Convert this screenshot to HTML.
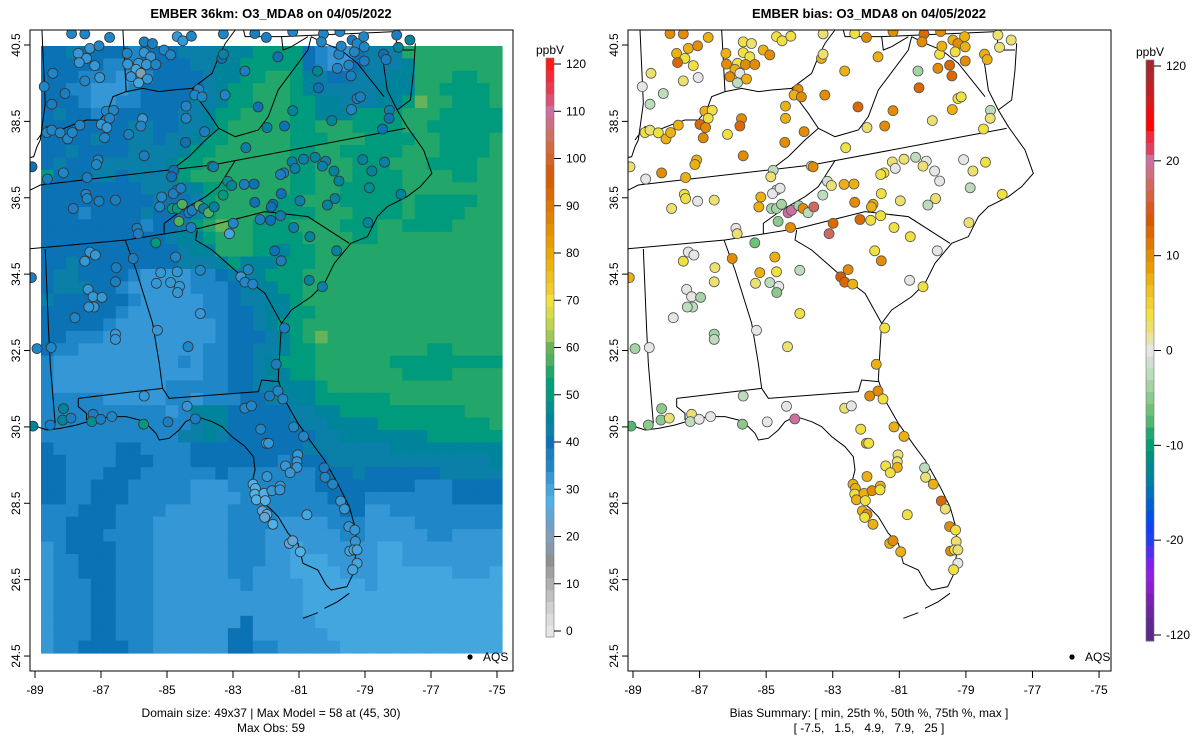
<!DOCTYPE html>
<html><head><meta charset="utf-8"><style>
html,body{margin:0;padding:0;background:#fff}
svg{display:block;font-family:"Liberation Sans",Arial,sans-serif}
</style></head><body>
<svg id="chart" width="1200" height="750" viewBox="0 0 1200 750" xmlns="http://www.w3.org/2000/svg">
<defs>
<clipPath id="clipL"><rect x="30" y="30" width="483" height="641"/></clipPath>
<clipPath id="clipR"><rect x="628" y="30" width="483" height="641"/></clipPath>
<path id="geo" fill="none" stroke="#000" stroke-width="1" vector-effect="non-scaling-stroke" d="M1175,40 L1170,120 L1160,210 L1120,240 L1150,290 L1200,360 L1225,430 L1190,470 L1150,500 L1090,530 L1060,560 L1030,620 L980,640 L930,700 L900,760 L860,800 L800,840 L770,880 L765,960 L760,1050 L780,1110 L820,1180 L870,1250 L900,1290 L940,1360 L975,1430 L995,1500 L995,1570 L985,1635 L968,1670 L920,1680 L905,1665 L880,1620 L835,1600 L820,1540 L790,1510 L760,1460 L735,1435 L705,1410 L680,1360 L690,1320 L685,1280 L660,1250 L620,1220 L590,1190 L560,1175 L520,1162 L500,1165 L480,1175 L460,1200 L430,1225 L400,1230 L390,1210 L370,1190 L340,1170 L300,1160 L250,1160 L200,1170 L150,1185 L100,1195 L60,1200 L30,1190 L10,1185 L0,1188 M835,1765 L880,1748 M900,1735 L940,1715 L975,1690 M1120,240 L1090,180 L1080,110 L1070,60 M0,485 L40,465 L560,405 L630,392 L1145,295 M0,657 L300,630 L520,595 L720,545 M720,545 L850,560 L975,640 M415,612 L415,580 L470,540 L540,500 L580,470 L630,392 M515,600 L510,630 L560,660 L640,730 L720,790 L770,880 M297,630 L330,720 L380,880 L400,1000 L410,1075 L430,1105 L700,1085 L710,1050 L760,1055 M55,657 L65,900 L70,1000 L85,1180 M155,1105 L410,1075 M155,1105 L155,1130 L180,1150 L180,1170 M30,330 L60,290 L100,300 L150,280 L180,270 L220,270 L245,240 L260,200 L300,185 L350,175 L400,185 L440,180 L500,175 L560,130 L580,80 L600,40 L630,0 M500,175 L520,210 L550,250 L580,295 M580,295 L540,330 L490,380 L450,410 L440,425 M580,295 L630,320 L700,300 L730,260 L760,180 L790,140 L850,60 L860,20 M45,0 L55,220 L40,330 L30,350 L20,380 L0,385 M290,0 L300,185 M655,0 L660,20 L770,20 L1115,5 M770,20 L775,60 L800,50 L850,20 M1115,5 L1120,60 L1170,60 M860,20 L900,40 L950,60 L1000,100 L1080,200"/>
</defs>
<rect width="1200" height="750" fill="#fff"/>
<g id="leftPanel">
  <g id="rasterL" clip-path="url(#clipL)"></g>
  <g clip-path="url(#clipL)"><use href="#geo" transform="translate(27.07,30) scale(0.33043,0.33333)"/></g>
  <g id="ptsL" clip-path="url(#clipL)"></g>
  <rect x="30" y="30" width="483" height="641" fill="none" stroke="#000"/>
  <text x="271" y="18" text-anchor="middle" font-size="13" font-weight="bold">EMBER 36km: O3_MDA8 on 04/05/2022</text>
  <text x="271" y="717" text-anchor="middle" font-size="12">Domain size: 49x37 | Max Model = 58 at (45, 30)</text>
  <text x="271" y="732" text-anchor="middle" font-size="12">Max Obs: 59</text>
  <circle cx="470" cy="657" r="2.6" fill="#000"/>
  <text x="483" y="661" font-size="12">AQS</text>
  <g id="axL"></g>
  <g id="cbL"></g>
</g>
<g id="rightPanel">
  <g clip-path="url(#clipR)"><use href="#geo" transform="translate(625,30) scale(0.33333)"/></g>
  <g id="ptsR" clip-path="url(#clipR)"></g>
  <rect x="628" y="30" width="483" height="641" fill="none" stroke="#000"/>
  <text x="869" y="18" text-anchor="middle" font-size="13" font-weight="bold">EMBER bias: O3_MDA8 on 04/05/2022</text>
  <text x="869" y="717" text-anchor="middle" font-size="12">Bias Summary: [ min, 25th %, 50th %, 75th %, max ]</text>
  <text x="869" y="732" text-anchor="middle" font-size="12" xml:space="preserve">[ -7.5,   1.5,   4.9,   7.9,   25 ]</text>
  <circle cx="1072" cy="657" r="2.6" fill="#000"/>
  <text x="1085" y="661" font-size="12">AQS</text>
  <g id="axR"></g>
  <g id="cbR"></g>
</g>
</svg>
<script>
var NS="http://www.w3.org/2000/svg";
var gridRows=[
"ddeddddcdddeeefffggggdcbbdeeehhhhhhhh","dddddcccddddeeffgggggdcbbdeeefhhhhhhh","dddcccbbcddddeffgghhgfeddeeeffhhhgghh",
"ddccbbbcdddddefgghhhgfeeeeefffhhggggh","dddcbbccddddeefgghhhggffeeeffgihhgggh","deddccdddddeefgghhhhggfffgggghhhggggg",
"dddddddeeddeefghhhhhgghhhgggghhgggggg","ddddeddeedeefgghhhhhggghhhgggghhggggh","ddeddddeeeefgghhhhhhgghhggggghhhggggh",
"deddeeeeeefgghhhhhhhgghhhggghhhgggghh","gdddeedeeefghhhhhhhhgghhhgggghhhhgghh","ddddddddeeeefgghhhhhgghhggggghhhhhhhh",
"dddddddddeddeghhhhhgghhhggggghggggghh","dddcddddedddeghhhhgggghhhgggghgggghhh","ddddddddcddeghihhggghhhhggghhgggghhhh",
"ddddddddddeffghhhgggghhhhgghhhhhhhhhh","dddddddddddeffhhhggfgghhhhhhhhhhhhhhh","ddeddddddddeeefgfffggghhhhhhhhhhhhhhh",
"deeddddcbbbbccdeefggghhhhhhhhhhhhhhhh","deeeddcbbbbbcccdeffgghhhhhhhhhhhhhhhh","eddddddcbbbbbccdeeffghhhhhhhhhhhhhhhh",
"ddddddcbbbbbbccddeffgghhhhhhhhhhhhhhh","dddddcbbbbbbbbcddefgghhhhhhhhhhhhhhhh","ddcccbbbbbbbbbcdddefghihhhhhhhhhhhhhh",
"dccbbbbbbbbbbccddeefgghhhhhhhhhgghhhh","cbbbbbbbbbbcbccddefggghhhhhhgggggggggg","cbbbbbbbbbbbbccddeffgghhhhhhhgggghhhh",
"cbbbbbbbbbcccccddeefffghhhhhhhhhhhhhh","cccccbbbbbccbcccddeeffgggggghhhhhhhhh","ccccccccccbcfffdddddeeffgggggggggghhh",
"cccccccccccceffdddddeeeffffgggggggggh","ccccccccccceefedddddddeefffffffgggggg","dcccccddccccdddddddddeeeeeeefffffffff",
"ddccccdddcccdddddddcdddeeeeeeeeeeeeef","ddcccdddccccccdcccccccdddeddddddeeeee","ddccdddcccccbbbcccccccddddddddcccdddd",
"ddccdddcccccbbbbcccccccdddcccccccdddd","cccdddccccbbbbbcccccccccddbbccccccccc","ccddddcccbbbbbbccccbbbbcccbbbbcccccc",
"ccdddccccbbbbbbcccbbbbbbccbbbbbccbbbb","bcddddcccbbbbbbcccbbabbbbbbaabbbbbbbb","bccdddcccbbbbbbcccbbaaabbbbaabbbbbbbb",
"bccdddcccbbbbbbccbbbaaaabbbaaaaaabbba","bcccddcccbbbbbbbcbbbbaaaaabaaaaaaaaaa","bcccddcccbbbbbbbbbbbbaaaaaaaaaaaaaaaa",
"bcccddcccbbbbbbbbbbbbaaaaaaaaaaaaaaaa","bcccddcccbbbbbbbdbbbbbaaaaaaaaaaaaaaa","bcccddcccbbbbbbddbbbbbbaaaaaaaaaaaaaa",
"bccddddccbbbbbbddccbbbbbaaaaaaaaaaaaa"];
var gridLevels={a:30,b:32.5,c:35,d:40,e:42.5,f:45,g:50,h:55,i:60};
var stLon=[-87.89,-87.49,-86.74,-87.69,-87.34,-87.06,-87.44,-87.66,-87.19,-88.46,
-87.49,-87.04,-88.72,-88.09,-88.49,-86.21,-85.69,-85.44,-85.69,-85.49,
-86.19,-85.86,-85.94,-85.62,-85.79,-86.09,-85.59,-85.86,-85.34,-85.09,
-84.89,-84.69,-84.52,-84.26,-83.29,-82.34,-81.99,-81.19,-83.34,-83.29,
-82.64,-81.64,-84.04,-84.16,-83.94,-83.24,-84.42,-84.42,-83.86,-84.44,
-85.74,-85.79,-86.16,-85.69,-86.84,-86.62,-86.74,-86.99,-86.82,-87.64,
-86.89,-88.64,-88.49,-88.24,-88.01,-87.87,-89.09,-88.62,-88.14,-87.42,
-87.09,-87.14,-87.46,-87.42,-87.06,-86.56,-87.84,-84.79,-84.86,-83.64,
-83.59,-82.24,-81.97,-81.44,-81.19,-80.44,-80.41,-79.84,-79.49,-79.42,
-79.79,-79.72,-79.39,-79.24,-79.04,-79.02,-79.32,-79.02,-78.44,-78.36,
-77.99,-77.64,-78.04,-80.26,-79.76,-80.32,-79.24,-79.14,-79.41,-78.26,
-78.27,-78.47,-80.01,-82.61,-81.21,-80.86,-80.51,-80.19,-80.29,-81.12,
-81.46,-81.56,-79.07,-78.41,-78.79,-79.94,-79.79,-78.87,-77.91,-79.91,
-80.14,-80.97,-81.54,-81.79,-81.84,-82.34,-82.66,-82.36,-83.16,-83.04,
-83.30,-84.69,-84.81,-84.58,-85.16,-85.22,-84.84,-84.69,-84.54,-84.34,
-84.24,-84.02,-83.89,-83.74,-83.57,-84.64,-84.27,-82.99,-83.11,-82.18,
-81.86,-81.56,-81.16,-80.67,-78.91,-79.86,-81.74,-81.54,-82.54,-82.76,
-82.64,-82.40,-80.69,-80.29,-81.44,-83.99,-83.99,-84.69,-84.74,-84.89,
-84.62,-84.68,-85.32,-85.19,-85.34,-85.91,-85.87,-86.02,-86.54,-86.56,
-87.34,-87.17,-87.49,-87.39,-87.24,-86.97,-87.21,-87.37,-87.79,-85.29,
-86.56,-86.56,-84.36,-88.94,-88.51,-89.11,
-81.69,-81.89,-81.64,-81.49,-85.69,-84.39,-82.64,-82.44,-88.14,-88.16,
-87.91,-87.24,-87.28,-87.01,-86.67,-88.54,-89.06,-85.71,-84.97,-84.14,
-82.16,-81.99,-81.92,-81.16,-80.86,-81.04,-81.06,-81.06,-81.41,-81.27,
-81.97,-80.24,-80.21,-79.98,-82.39,-82.32,-82.34,-82.29,-82.06,-82.02,
-81.82,-81.57,-81.58,-82.11,-81.97,-82.04,-81.79,-81.29,-81.19,-80.96,
-80.76,-79.74,-79.62,-79.49,-79.31,-79.29,-79.46,-79.34,-79.24,-79.24,-79.37];
var stLat=[40.80,40.79,40.70,40.28,40.41,40.48,40.15,40.04,39.96,39.76,
39.56,39.65,39.41,39.23,38.95,40.28,40.58,40.54,40.30,40.19,
40.00,40.02,39.86,39.99,39.76,39.67,39.61,39.51,39.99,40.37,
40.24,40.72,40.61,40.73,40.79,40.80,40.70,40.85,40.15,40.26,
39.82,40.19,39.34,39.19,39.14,39.19,38.90,38.58,38.23,37.95,
38.57,38.38,38.16,37.60,38.77,38.79,38.58,38.42,38.34,38.40,
38.07,38.21,38.27,38.20,38.04,38.21,37.31,36.99,37.15,37.03,
37.49,37.37,36.59,36.48,36.41,36.44,36.22,37.22,37.05,37.33,
37.31,38.88,38.34,38.38,38.78,39.82,39.38,39.89,39.97,39.69,
40.26,40.47,40.63,40.54,40.72,40.45,40.32,40.08,40.26,40.12,
40.44,40.63,40.76,40.79,40.85,40.58,39.10,39.14,38.81,38.79,
38.58,38.30,38.52,37.81,37.44,37.51,37.56,37.46,37.33,37.27,
37.15,37.11,37.50,37.43,37.20,37.20,36.94,36.76,36.59,36.48,
36.31,36.42,36.61,36.33,36.26,36.38,36.85,36.86,36.93,36.82,
36.57,36.70,36.61,36.75,36.52,36.26,36.22,36.22,36.33,36.11,
36.17,36.29,36.22,36.11,36.26,35.88,35.72,35.83,35.56,35.93,
35.91,36.03,35.72,35.48,35.85,35.11,35.11,34.85,34.62,34.43,
34.29,34.24,34.34,34.17,33.09,33.47,34.60,34.56,34.95,34.28,
34.18,34.02,34.26,34.54,35.32,35.70,35.56,34.91,34.67,34.30,
35.08,35.00,34.84,34.10,33.91,33.89,33.64,33.64,33.36,33.03,
32.93,32.79,32.60,32.55,32.58,34.41,
32.14,31.31,31.44,31.23,31.31,31.04,30.99,31.05,30.98,30.68,
30.73,30.83,30.64,30.70,30.77,30.55,30.52,30.57,30.63,30.71,
30.44,30.07,30.07,30.50,30.25,29.77,29.59,29.44,29.48,29.30,
29.20,29.43,29.18,29.00,29.00,28.89,28.74,28.59,28.76,28.57,
28.83,28.95,28.85,28.30,28.21,28.13,27.95,27.45,27.52,27.23,
28.20,28.56,28.35,27.89,27.80,27.50,27.25,27.28,27.28,26.93,26.76];
var stObs=[36,36,36,33,33,34,32,33,33,36,
36,33,36,38,37,36,38,38,33,33,
33,32,30,32,20,32,33,30,35,36,
36,33,33,34,36,38,37,36,40,42,
38,40,36,34,34,36,34,35,38,40,
33,34,38,38,34,34,34,33,33,36,
36,36,36,36,36,36,40,38,35,38,
36,36,36,36,38,38,38,40,40,42,
42,40,45,40,45,46,40,34,36,38,
36,35,37,36,36,36,36,38,40,38,
45,45,38,36,36,35,38,38,36,42,
40,40,45,42,42,42,45,43,42,43,
38,38,45,43,46,45,45,48,45,45,
46,43,40,40,40,40,38,40,48,45,
50,38,38,38,36,35,50,50,58,38,
38,58,42,58,45,58,38,35,30,38,
40,42,42,45,45,45,40,38,36,33,
34,36,45,43,38,33,36,33,36,33,
33,33,33,33,50,38,38,38,38,38,
33,33,33,33,33,33,33,33,36,32,
32,32,36,36,36,38,
38,38,36,36,32,33,36,36,45,45,
38,38,48,38,36,38,45,50,38,38,
36,33,33,36,36,32,32,32,32,32,
32,38,36,36,28,28,28,28,28,28,
32,32,32,25,25,25,28,25,25,28,
30,32,32,32,32,32,30,30,30,30,30];
var stBias=[10,10,7,7,7,10,4,12,4,3,
2,0,0,-2,-3,7,4,3,4,4,
10,4,7,10,0,10,7,-2,10,7,
10,4,4,4,3,4,10,10,7,3,
7,7,10,7,10,10,7,7,10,10,
10,12,4,10,7,4,4,12,10,7,
10,4,3,4,7,7,3,0,10,7,
7,7,4,4,0,3,2,-2,2,3,
10,12,2,10,10,-4,12,10,12,12,
4,7,7,10,7,7,4,10,7,7,
3,3,3,12,10,10,4,4,7,-2,
3,4,3,4,2,3,-2,0,3,0,
4,4,0,4,3,0,0,-2,4,3,
-2,3,4,7,7,10,7,7,-1,2,
-3,-2,0,0,7,7,-4,-4,-4,22,
25,-4,10,-3,18,-5,10,12,17,12,
4,4,4,4,2,0,4,10,10,14,
12,7,0,4,4,4,-2,4,7,-2,
0,-5,3,7,-6,0,2,10,3,3,
0,0,4,0,0,-4,-3,-2,0,0,
-4,-3,3,-4,0,7,
7,10,10,4,-3,0,2,0,-5,-5,
3,3,-2,0,0,-5,-8,-5,0,25,
4,7,4,7,7,3,3,7,4,4,
7,-2,3,7,7,7,4,7,7,4,
10,7,4,7,10,4,7,7,10,7,
4,12,3,10,4,3,10,4,3,0,4];
var xTicks=[-89,-87,-85,-83,-81,-79,-77,-75];
var yTicks=[40.5,38.5,36.5,34.5,32.5,30.5,28.5,26.5,24.5];
var cbLeftTicks=[0,10,20,30,40,50,60,70,80,90,100,110,120];
var cbRightTicks=[120,20,10,0,-10,-20,-120];
var leftPal=['#e6e6e6','#dcdcdc','#d0d0d0','#c0c0c0','#b0b0b0','#a0a0a0','#909090','#8898a8','#80a0b8','#70a0c8','#60a8d8','#50b0e8','#44a6df','#3597d6','#1f87c8','#1a7ec0','#0a72b5','#0a7fa8','#00849c','#008f90','#009a7c','#00a07a','#22a66a','#50b060','#66b35a','#a0c858','#c0d450','#d8dc48','#f0e040','#f0cc30','#eec020','#ecb410','#eaa800','#e89c00','#e49000','#e08400','#e07800','#dc6a00','#d85f00','#d85a10','#d66428','#d46a40','#d07060','#cc7080','#cc70a0','#dc5078','#e83a50','#f22a3a','#ff1a1a'];
var rightPal=['#a0282c','#b0242a','#c01e24','#d4181c','#f00a0a','#ff0000','#f02840','#e04060','#cc70a0','#d07080','#d06a60','#d46440','#d85a20','#d85a00','#dc6800','#e07800','#e48c00','#e89c00','#ecb010','#eec020','#f0d030','#f0e040','#ece070','#e8e4a8','#e6e6e6','#d0e0d0','#bcdcbc','#a4d4a4','#8cca8c','#70c278','#50b870','#20a870','#00a070','#009080','#008890','#0080a0','#0070b8','#0060d0','#0050e8','#1040f8','#2040f0','#5030f0','#8020f0','#9020e0','#8a20d0','#7a22b0','#6c26a0','#602890','#5a2a88'];

function xL(lon){return 35+(lon+89)*33.0;}
function xR(lon){return 633+(lon+89)*33.29;}
function yM(lat){return 45+(40.5-lat)*38.19;}
function cL(v){var i=Math.round(v/2.5);i=Math.max(0,Math.min(48,i));return leftPal[i];}
function biasBin(b){var i;if(b>20)i=8-Math.round((b-20)/12.5);else if(b<-20)i=40+Math.round((-20-b)/12.5);else i=24-Math.round(b/1.25);return Math.max(0,Math.min(48,i));}
function cR(b){return rightPal[biasBin(b)];}
function mk(tag,attrs,parent){var e=document.createElementNS(NS,tag);for(var k in attrs)e.setAttribute(k,attrs[k]);parent.appendChild(e);return e;}

var rl=document.getElementById('rasterL');
var gx0=41,gx1=502,gy0=46,gy1=653,nR=gridRows.length,nC=37;
var cw=(gx1-gx0)/nC,ch=(gy1-gy0)/nR;
for(var r=0;r<nR;r++){var row=gridRows[r];for(var c=0;c<nC;c++){var ch0=row.charAt(Math.min(c,row.length-1));
 var e=mk('rect',{x:(gx0+c*cw).toFixed(2),y:(gy0+r*ch).toFixed(2),width:(cw+0.6).toFixed(2),height:(ch+0.6).toFixed(2),fill:cL(gridLevels[ch0])},rl);
 
 }}

var n=Math.min(stLon.length,stLat.length,stObs.length,stBias.length);
var pl=document.getElementById('ptsL'),pr=document.getElementById('ptsR');
for(var i=0;i<n;i++){
 var a=mk('circle',{cx:xL(stLon[i]).toFixed(1),cy:yM(stLat[i]).toFixed(1),r:5,fill:cL(stObs[i]),stroke:'#333','stroke-width':0.8},pl);
 
 
 var b=mk('circle',{cx:xR(stLon[i]).toFixed(1),cy:yM(stLat[i]).toFixed(1),r:5,fill:cR(stBias[i]),stroke:'#555','stroke-width':0.8},pr);
 
 
}

function axes(gid,fx,x0){var g=document.getElementById(gid);
 xTicks.forEach(function(t){var x=fx(t);mk('line',{x1:x,x2:x,y1:671,y2:678,stroke:'#000'},g);
  var tx=mk('text',{x:x,y:694,'text-anchor':'middle','font-size':12},g);tx.textContent=t;
  
  });
 yTicks.forEach(function(t){var y=yM(t);mk('line',{x1:x0,x2:x0-6,y1:y,y2:y,stroke:'#000'},g);
  var tx=mk('text',{x:x0-10,y:y,'text-anchor':'middle','font-size':12,transform:'rotate(-90 '+(x0-10)+' '+y+')'},g);tx.textContent=t.toFixed(1);
  
  });}
axes('axL',xL,30);axes('axR',xR,628);

var gL=document.getElementById('cbL');
for(var k=0;k<49;k++){var yc=631-k*2.5*4.725;var rr=mk('rect',{x:546,y:(yc-5.95).toFixed(2),width:8,height:12.4,fill:leftPal[k]},gL);
 
 }
mk('rect',{x:546,y:58,width:8,height:579,fill:'none',stroke:'#777','stroke-width':0.6},gL);
cbLeftTicks.forEach(function(t){var y=631-t*4.725;mk('line',{x1:554,x2:561,y1:y,y2:y,stroke:'#000'},gL);
 var tx=mk('text',{x:566,y:y+4,'font-size':12},gL);tx.textContent=t;
 
 });
var uL=mk('text',{x:550,y:54,'text-anchor':'middle','font-size':12},gL);uL.textContent='ppbV';


var gR=document.getElementById('cbR');
for(var k2=0;k2<49;k2++){var yc2=66+k2*11.854;var r2=mk('rect',{x:1146,y:(yc2-5.93).toFixed(2),width:8,height:12.4,fill:rightPal[k2]},gR);
 
 }
mk('rect',{x:1146,y:60,width:8,height:581,fill:'none',stroke:'#777','stroke-width':0.6},gR);
cbRightTicks.forEach(function(t){var y=66+biasBin(t)*11.854;mk('line',{x1:1154,x2:1161,y1:y,y2:y,stroke:'#000'},gR);
 var tx=mk('text',{x:1166,y:y+4,'font-size':12},gR);tx.textContent=t;
 
 });
var uR=mk('text',{x:1150,y:56,'text-anchor':'middle','font-size':12},gR);uR.textContent='ppbV';


</script>
</body></html>
